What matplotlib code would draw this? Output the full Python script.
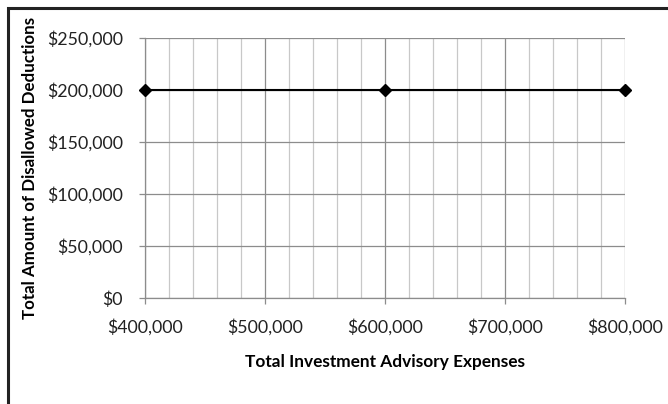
import matplotlib
matplotlib.use("Agg")
import matplotlib.pyplot as plt
from matplotlib.ticker import MultipleLocator, FuncFormatter
from matplotlib.patches import Rectangle

# data
expenses = [400000, 600000, 800000]
disallowed = [200000, 200000, 200000]

plt.rcParams['font.family'] = ['Lato', 'DejaVu Sans']

fig = plt.figure(figsize=(6.68, 4.04), dpi=100)
W, H = 668, 404
ax = fig.add_axes([145 / W, 1 - 298 / H, 480 / W, 260 / H])

ax.plot(expenses, disallowed, color='black', lw=1.5, marker='D', ms=6.5,
        markerfacecolor='black', clip_on=False, zorder=5)

ax.set_xlim(400000, 800000)
ax.set_ylim(0, 250000)
ax.xaxis.set_major_locator(MultipleLocator(100000))
ax.xaxis.set_minor_locator(MultipleLocator(20000))
ax.yaxis.set_major_locator(MultipleLocator(50000))

money = FuncFormatter(lambda v, p: '${:,.0f}'.format(v))
ax.xaxis.set_major_formatter(money)
ax.yaxis.set_major_formatter(money)

ax.grid(which='major', axis='both', color='#8c8c8c', lw=0.9)
ax.grid(which='minor', axis='x', color='#c8c8c8', lw=0.9)
ax.set_axisbelow(True)

for side in ['top', 'right']:
    ax.spines[side].set_visible(False)
for side in ['left', 'bottom']:
    ax.spines[side].set_color('#8c8c8c')
    ax.spines[side].set_linewidth(0.9)

ax.tick_params(which='major', length=4, width=0.9, color='#8c8c8c',
               labelsize=12.8, labelcolor='#222222')
ax.tick_params(which='minor', length=0)
ax.tick_params(axis='y', pad=12)
ax.tick_params(axis='x', pad=11)

ax.set_xlabel('Total Investment Advisory Expenses', fontsize=12.4, fontweight='bold',
              labelpad=13)
ax.set_ylabel('Total Amount of Disallowed Deductions', fontsize=12.2, fontweight='bold',
              labelpad=6)

# outer chart frame (runs past the right and bottom edges)
fig.patches.append(Rectangle((7.5 / W, -0.1), 1.2, 1 - 7.5 / H + 0.1,
                             transform=fig.transFigure, fill=False,
                             edgecolor='#222222', lw=2.2))

fig.savefig('out.png', dpi=100)
